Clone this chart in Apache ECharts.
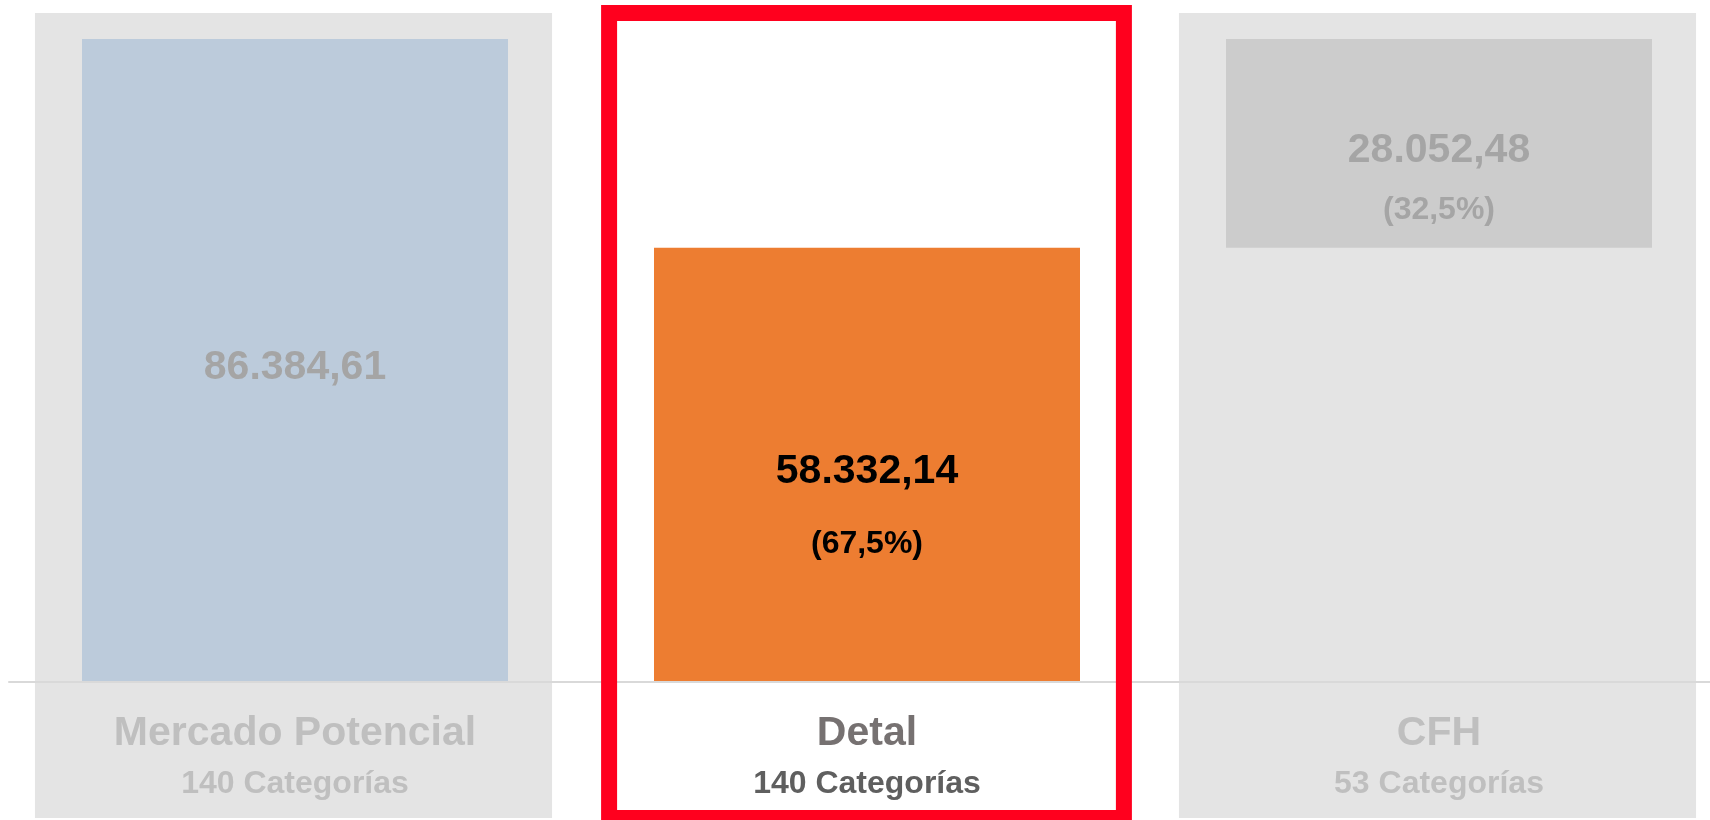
<!DOCTYPE html>
<html>
<head>
<meta charset="utf-8">
<script src="https://cdn.jsdelivr.net/npm/echarts@6/dist/echarts.min.js"></script>
<style>
  html, body { margin: 0; padding: 0; background: #ffffff; }
  #chart { width: 1710px; height: 820px; }
</style>
</head>
<body>
<div id="chart"></div>
<script>
// ---- data ----
const categories = ['Mercado Potencial', 'Detal', 'CFH'];
const categoryCounts = [140, 140, 53];
const baseValues = [0, 0, 58332.14];           // invisible offset (waterfall)
const values = [86384.61, 58332.14, 28052.48];
const percentLabels = ['', '67,5%', '32,5%'];
const highlightIndex = 1;

// ---- styles ----
const FONT = "'Liberation Sans', Arial, Helvetica, sans-serif";
const barColors = ['#bccbdb', '#ed7d31', '#cccccc'];
const valueColors = ['#a5a5a5', '#000000', '#a5a5a5'];
const nameColors = ['#bfbfbf', '#767171', '#bfbfbf'];
const countColors = ['#bfbfbf', '#5f5f5f', '#bfbfbf'];
const pctGaps = [0, 72, 60];

const yMax = values[0];

function fmt(v) {
  const parts = v.toFixed(2).split('.');
  return parts[0].replace(/\B(?=(\d{3})+(?!\d))/g, '.') + ',' + parts[1];
}

const rich = {};
categories.forEach((c, i) => {
  rich['n' + i] = { fontFamily: FONT, fontWeight: 'bold', fontSize: 41, lineHeight: 50, color: nameColors[i] };
  rich['c' + i] = { fontFamily: FONT, fontWeight: 'bold', fontSize: 32, lineHeight: 50, color: countColors[i] };
});

const barData = values.map((v, i) => {
  const vLH = 48;
  const pLH = pctGaps[i] ? 2 * pctGaps[i] - vLH : 0;
  const hasPct = !!percentLabels[i];
  return {
    value: v,
    itemStyle: { color: barColors[i] },
    label: {
      show: true,
      position: 'inside',
      offset: [0, (hasPct ? pLH / 2 : 0) + 7],
      formatter: hasPct ? '{v|' + fmt(v) + '}\n{p|(' + percentLabels[i] + ')}' : '{v|' + fmt(v) + '}',
      rich: {
        v: { fontFamily: FONT, fontWeight: 'bold', fontSize: 41, lineHeight: vLH, color: valueColors[i] },
        p: { fontFamily: FONT, fontWeight: 'bold', fontSize: 32, lineHeight: pLH || 40, color: valueColors[i] }
      }
    }
  };
});

const chart = echarts.init(document.getElementById('chart'), null, { renderer: 'canvas' });

chart.setOption({
  animation: false,
  backgroundColor: '#ffffff',
  grid: { left: 9, width: 1716, top: 39, bottom: 138, containLabel: false, outerBoundsMode: 'none' },
  xAxis: {
    type: 'category',
    data: categories,
    z: 3,
    axisTick: { show: false },
    axisLine: { show: true, lineStyle: { color: '#d9d9d9', width: 2 } },
    axisLabel: {
      margin: 27,
      interval: 0,
      formatter: (val, idx) => '{n' + idx + '|' + val + '}\n{c' + idx + '|' + categoryCounts[idx] + ' Categorías}',
      rich: rich
    },
    splitLine: { show: false }
  },
  yAxis: { type: 'value', min: 0, max: yMax, show: false, splitLine: { show: false } },
  series: [
    {
      type: 'custom',
      name: 'panels',
      z: 1,
      clip: false,
      silent: true,
      encode: { x: 0, y: 1 },
      data: categories.map((c, i) => [i, 0]),
      renderItem: (params, api) => {
        const i = api.value(0);
        const base = api.coord([i, 0]);
        const topPt = api.coord([i, yMax]);
        const w = api.size([1, 0])[0] * 0.904;
        const top = topPt[1] - 26;
        const bottom = base[1] + 136;
        return {
          type: 'rect',
          shape: { x: base[0] - w / 2 - 1.5, y: top, width: w, height: bottom - top },
          style: { fill: i === highlightIndex ? '#ffffff' : '#e4e4e4' }
        };
      }
    },
    {
      type: 'bar',
      name: 'base',
      stack: 'w',
      z: 2,
      barWidth: 426,
      silent: true,
      itemStyle: { color: 'rgba(0,0,0,0)' },
      data: baseValues
    },
    {
      type: 'bar',
      name: 'valor',
      stack: 'w',
      z: 2,
      barWidth: 426,
      data: barData
    },
    {
      type: 'custom',
      name: 'highlight',
      z: 5,
      clip: false,
      silent: true,
      encode: { x: 0, y: 1 },
      data: [[highlightIndex, 0]],
      renderItem: (params, api) => {
        const i = api.value(0);
        const base = api.coord([i, 0]);
        const topPt = api.coord([i, yMax]);
        const w = api.size([1, 0])[0] * 0.9;
        const top = topPt[1] - 26;
        const bottom = base[1] + 136;
        return {
          type: 'rect',
          shape: { x: base[0] - w / 2 - 0.5, y: top, width: w, height: bottom - top },
          style: { fill: 'none', stroke: '#ff001e', lineWidth: 16 }
        };
      }
    }
  ]
});
</script>
</body>
</html>
